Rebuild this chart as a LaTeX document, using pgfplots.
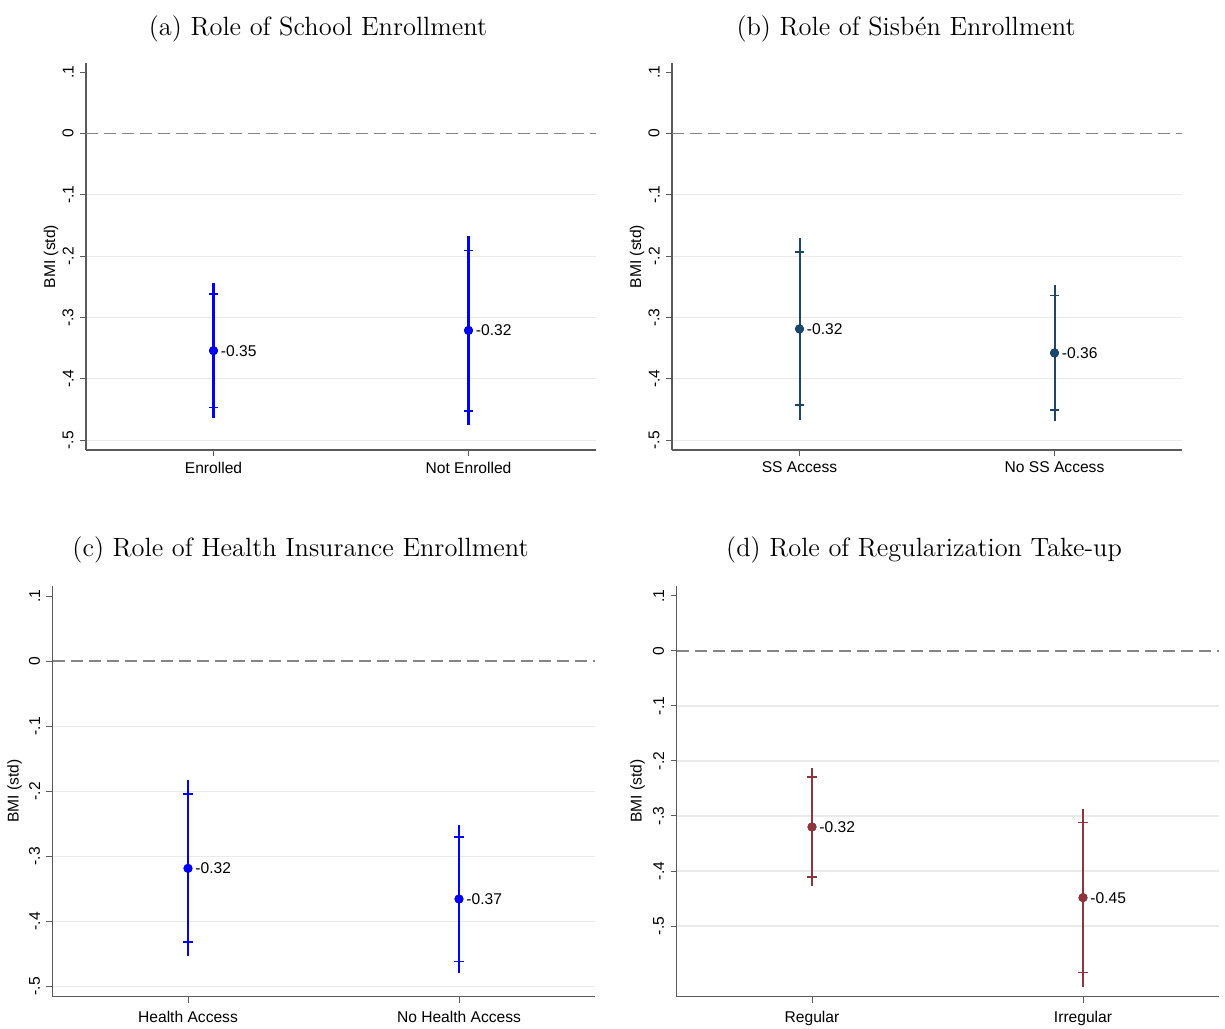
\documentclass[border=0pt]{standalone}
\usepackage{fontspec}
\setmainfont{Liberation Sans}
\newfontfamily\titlefont{Latin Modern Roman}
\usepackage{pgfplots}
\usepackage{pgfplotstable}
\pgfplotsset{compat=1.18}
\definecolor{navyS}{RGB}{26,71,111}
\definecolor{cranS}{RGB}{144,53,59}
\definecolor{axisgray}{RGB}{90,90,90}
\definecolor{gridgray}{RGB}{234,234,234}

\pgfplotstableread{
x y hi95 lo95 hi90 lo90 lab
1 -0.354 -0.2435 -0.464 -0.2615 -0.4465 -0.35
2 -0.321 -0.1664 -0.476 -0.191 -0.452 -0.32
}\tabA
\pgfplotstableread{
x y hi95 lo95 hi90 lo90 lab
1 -0.3186 -0.170 -0.4666 -0.1936 -0.443 -0.32
2 -0.3578 -0.247 -0.468 -0.2638 -0.451 -0.36
}\tabB
\pgfplotstableread{
x y hi95 lo95 hi90 lo90 lab
1 -0.3187 -0.183 -0.4534 -0.2044 -0.4323 -0.32
2 -0.3658 -0.2513 -0.480 -0.2705 -0.4621 -0.37
}\tabC
\pgfplotstableread{
x y hi95 lo95 hi90 lo90 lab
1 -0.320 -0.2127 -0.427 -0.229 -0.411 -0.32
2 -0.4484 -0.2866 -0.611 -0.312 -0.5848 -0.45
}\tabD

\newcommand{\sfs}{\fontsize{7.8}{9}\selectfont}

\pgfplotsset{
 panel/.style={
  scale only axis, axis x line*=bottom, axis y line*=left,
  xmin=0.5, xmax=2.5, xtick={1,2},
  tick align=outside, major tick length=3pt,
  ytick={-0.5,-0.4,-0.3,-0.2,-0.1},
  yticklabels={-.5,-.4,-.3,-.2,-.1},
  extra y ticks={0,0.1}, extra y tick labels={0,.1},
  extra y tick style={ymajorgrids=false},
  ymajorgrids, major grid style={draw=gridgray, line width=0.6pt},
  axis line style={draw=axisgray, line width=0.6pt},
  tick style={draw=axisgray, line width=0.5pt},
  tick label style={font=\sfs},
  xticklabel style={yshift=0.6pt},
  yticklabel style={rotate=90, anchor=south, inner sep=3pt},
  ylabel={BMI (std)},
  label style={font=\sfs},
  title style={font=\titlefont\fontsize{13.2}{15}\selectfont, anchor=base, yshift=8pt},
  clip=false,
 },
 ci95/.style 2 args={only marks, mark=none, forget plot,
   error bars/.cd, y dir=both, y explicit, error mark=none,
   error bar style={draw=#1, line width=#2}},
 cap/.style={only marks, mark=-, mark size=2.4pt, color=#1, forget plot,
   mark options={line width=0.8pt, draw=#1}},
 pt/.style={only marks, mark=*, mark size=2.05pt, color=#1,
   nodes near coords, point meta=explicit symbolic,
   nodes near coords style={anchor=west, inner sep=0pt, xshift=3.5pt, text=black, font=\sfs}},
 zero/.style={draw=black!48, line width=0.65pt, dash pattern=on 6pt off 3pt, forget plot},
}

\begin{document}
\begin{tikzpicture}
\useasboundingbox (0,0) rectangle (612.5pt,-514pt);

% (a)
\begin{axis}[panel, at={(43pt,-225pt)}, anchor=south west, width=255pt, height=193.5pt,
  ymin=-0.516, ymax=0.115, xticklabels={Enrolled, Not Enrolled},
  title={(a) Role of School Enrollment}, title style={at={(axis description cs:0.455,1)}},
  ylabel style={at={(axis description cs:-0.0686,0.5)}, anchor=center}]
\addplot[zero] coordinates {(0.5,0) (2.5,0)};
\addplot[ci95={blue}{1.2pt}] table[x=x, y=y, y error plus expr=\thisrow{hi95}-\thisrow{y}, y error minus expr=\thisrow{y}-\thisrow{lo95}] {\tabA};
\addplot[cap=blue] table[x=x, y=hi90] {\tabA};
\addplot[cap=blue] table[x=x, y=lo90] {\tabA};
\addplot[pt=blue] table[x=x, y=y, meta=lab] {\tabA};
\end{axis}

% (b)
\begin{axis}[panel, at={(336pt,-225pt)}, anchor=south west, width=255pt, height=193.5pt,
  ymin=-0.516, ymax=0.115, xticklabels={SS Access, No SS Access},
  title={(b) Role of Sisbén Enrollment}, title style={at={(axis description cs:0.459,1)}},
  ylabel style={at={(axis description cs:-0.0686,0.5)}, anchor=center}]
\addplot[zero] coordinates {(0.5,0) (2.5,0)};
\addplot[ci95={navyS}{1pt}] table[x=x, y=y, y error plus expr=\thisrow{hi95}-\thisrow{y}, y error minus expr=\thisrow{y}-\thisrow{lo95}] {\tabB};
\addplot[cap=navyS] table[x=x, y=hi90] {\tabB};
\addplot[cap=navyS] table[x=x, y=lo90] {\tabB};
\addplot[pt=navyS] table[x=x, y=y, meta=lab] {\tabB};
\end{axis}

% (c)
\begin{axis}[panel, at={(26.25pt,-498.35pt)}, anchor=south west, width=271pt, height=205.35pt,
  ymin=-0.516, ymax=0.1154, xticklabels={Health Access, No Health Access},
  xticklabel style={yshift=-1.2pt},
  title={(c) Role of Health Insurance Enrollment}, title style={at={(axis description cs:0.4576,1)}, yshift=1pt},
  ylabel style={at={(axis description cs:-0.0701,0.5)}, anchor=center}]
\addplot[zero] coordinates {(0.5,0) (2.5,0)};
\addplot[ci95={blue}{1.2pt}] table[x=x, y=y, y error plus expr=\thisrow{hi95}-\thisrow{y}, y error minus expr=\thisrow{y}-\thisrow{lo95}] {\tabC};
\addplot[cap=blue] table[x=x, y=hi90] {\tabC};
\addplot[cap=blue] table[x=x, y=lo90] {\tabC};
\addplot[pt=blue] table[x=x, y=y, meta=lab] {\tabC};
\end{axis}

% (d)
\begin{axis}[panel, at={(338.25pt,-498.35pt)}, anchor=south west, width=271pt, height=205.35pt,
  ymin=-0.6285, ymax=0.118, xticklabels={Regular, Irregular},
  xticklabel style={yshift=-1.2pt},
  title={(d) Role of Regularization Take-up}, title style={at={(axis description cs:0.4567,1)}, yshift=1pt},
  ylabel style={at={(axis description cs:-0.072,0.5)}, anchor=center}]
\addplot[zero] coordinates {(0.5,0) (2.5,0)};
\addplot[ci95={cranS}{1.15pt}] table[x=x, y=y, y error plus expr=\thisrow{hi95}-\thisrow{y}, y error minus expr=\thisrow{y}-\thisrow{lo95}] {\tabD};
\addplot[cap=cranS] table[x=x, y=hi90] {\tabD};
\addplot[cap=cranS] table[x=x, y=lo90] {\tabD};
\addplot[pt=cranS] table[x=x, y=y, meta=lab] {\tabD};
\end{axis}
\end{tikzpicture}
\end{document}
